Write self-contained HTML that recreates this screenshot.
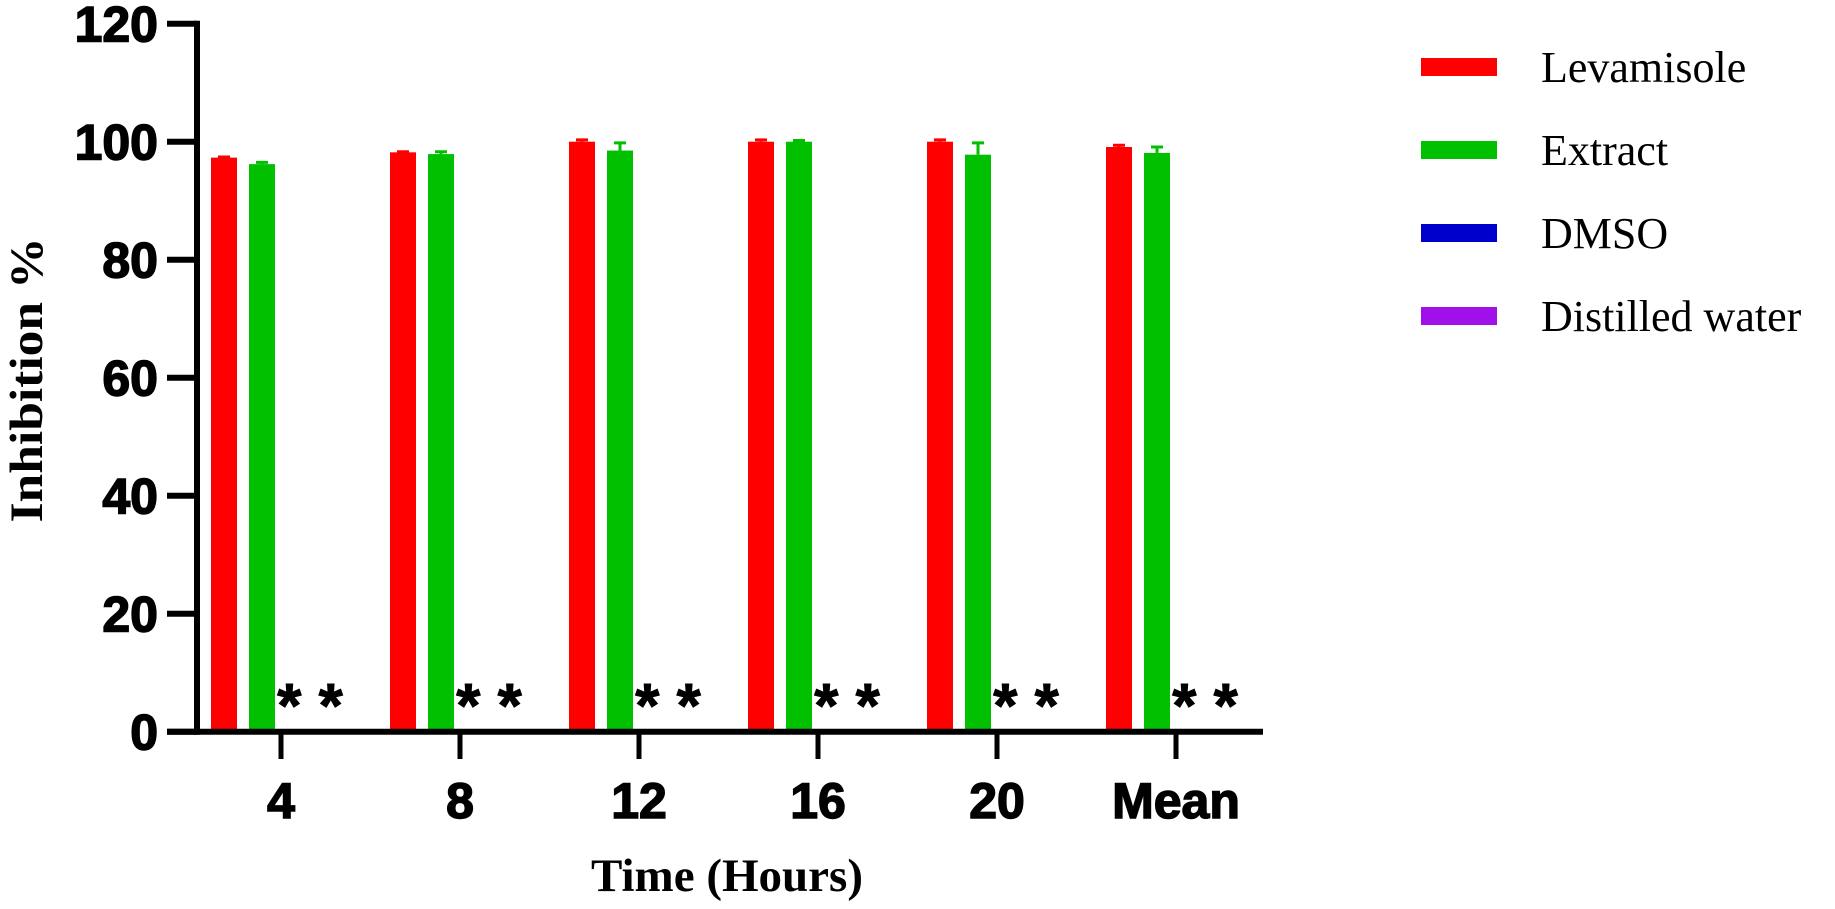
<!DOCTYPE html>
<html><head><meta charset="utf-8"><style>
body{margin:0;background:#fff;}
svg{display:block;}
</style></head><body>
<svg id="chart" width="1835" height="909" xmlns="http://www.w3.org/2000/svg">
<g id="bars"></g>
<g id="axes"></g>
<g id="legend"></g>
<text transform="translate(42,380) rotate(-90)" text-anchor="middle" font-family="Liberation Serif, serif" font-weight="bold" font-size="47" textLength="285" lengthAdjust="spacingAndGlyphs">Inhibition %</text>
<text x="727" y="891" text-anchor="middle" font-family="Liberation Serif, serif" font-weight="bold" font-size="47">Time (Hours)</text>
</svg>
<script>
const categories = ["4","8","12","16","20","Mean"];
const seriesNames = ["Levamisole","Extract","DMSO","Distilled water"];
const levamisole = [97.3, 98.2, 100, 100, 100, 99.1];
const levamisoleErr = [0.1, 0.1, 0.3, 0.3, 0.3, 0.3];
const extract = [96.2, 97.9, 98.5, 100, 97.8, 98.1];
const extractErr = [0.3, 0.4, 1.3, 0.2, 2.0, 1.0];
const dmso = [0, 0, 0, 0, 0, 0];
const water = [0, 0, 0, 0, 0, 0];
const yTicks = [0, 20, 40, 60, 80, 100, 120];
const sigLabels = ["* *","* *","* *","* *","* *","* *"];

const NS = "http://www.w3.org/2000/svg";
const colors = ["#ff0000","#00c000","#0000cc","#a010e8"];
const x0 = 197, y0 = 731.7, unit = 5.9;
const yScale = v => y0 - v * unit;
const xCenter = i => 281 + i * 179;
const offsets = [-70, -32, 6, 44];
const bw = 26;
function mk(tag, attrs, parent){const e=document.createElementNS(NS,tag);for(const k in attrs)e.setAttribute(k,attrs[k]);parent.appendChild(e);return e;}
const bars = document.getElementById('bars');
const axes = document.getElementById('axes');
const legend = document.getElementById('legend');
const series = [levamisole, extract, dmso, water];
const errs = [levamisoleErr, extractErr, null, null];
categories.forEach((c, i) => {
  series.forEach((s, j) => {
    const v = s[i];
    if (v <= 0) return;
    const x = xCenter(i) + offsets[j];
    const r = mk('rect', {x: x, y: yScale(v), width: bw, height: y0 - yScale(v), fill: colors[j]}, bars);
    
    
    if (errs[j]) {
      const e = errs[j][i];
      const cx = x + bw / 2;
      const l = mk('path', {d: `M${cx},${yScale(v)} V${yScale(v+e)} M${cx-6},${yScale(v+e)} H${cx+6}`, stroke: colors[j], 'stroke-width': 3, fill: 'none'}, bars);
      
      
    }
  });
  const t = mk('text', {x: xCenter(i) + 29, y: 727, 'text-anchor': 'middle', 'font-family': 'Liberation Sans, sans-serif', 'font-weight': 'bold', 'font-size': 62, stroke: '#000', 'stroke-width': 1}, bars);
  t.textContent = sigLabels[i];
  
  
  const tk = mk('line', {x1: xCenter(i), x2: xCenter(i), y1: y0, y2: 759, stroke: '#000', 'stroke-width': 5}, axes);
  
  
  const tl = mk('text', {x: xCenter(i), y: 818, 'text-anchor': 'middle', 'font-family': 'Liberation Sans, sans-serif', 'font-weight': 'bold', 'font-size': 50, stroke: '#000', 'stroke-width': 1.5}, axes);
  tl.textContent = c;
  
  
});
yTicks.forEach(v => {
  const tk = mk('line', {x1: 167, x2: x0, y1: yScale(v), y2: yScale(v), stroke: '#000', 'stroke-width': 6}, axes);
  
  
  const tl = mk('text', {x: 158, y: yScale(v) + 18, 'text-anchor': 'end', 'font-family': 'Liberation Sans, sans-serif', 'font-weight': 'bold', 'font-size': 50, stroke: '#000', 'stroke-width': 1.5}, axes);
  tl.textContent = v;
  
  
});
const ya = mk('line', {x1: x0, x2: x0, y1: yScale(120) - 3, y2: y0 + 3, stroke: '#000', 'stroke-width': 6}, axes);


const xa = mk('line', {x1: 167, x2: 1263, y1: y0, y2: y0, stroke: '#000', 'stroke-width': 6}, axes);


seriesNames.forEach((n, j) => {
  const y = 67 + j * 83;
  const sw = mk('rect', {x: 1421, y: y - 9, width: 76, height: 18, fill: colors[j]}, legend);
  
  
  const t = mk('text', {x: 1541, y: y + 15, 'font-family': 'Liberation Serif, serif', 'font-size': 44}, legend);
  t.textContent = n;
  
  
});
</script>
</body></html>
